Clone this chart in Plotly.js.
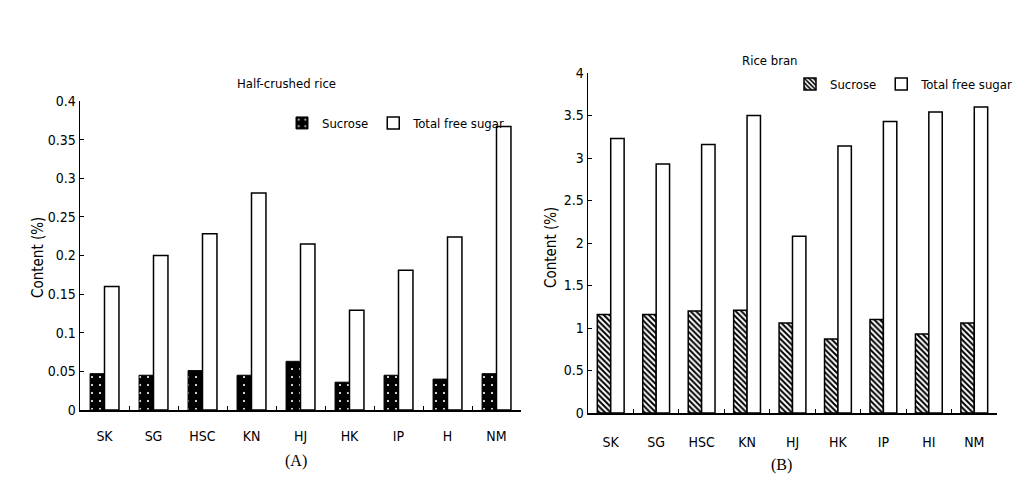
<!DOCTYPE html>
<html>
<head>
<meta charset="utf-8">
<script src="https://cdn.plot.ly/plotly-3.0.1.min.js"></script>
<style>html,body{margin:0;padding:0;background:#fff;}#chart{width:1022px;height:492px;}</style>
</head>
<body>
<div id="chart"></div>
<script>
// Categories
var catsA = ["SK","SG","HSC","KN","HJ","HK","IP","H","NM"];
var catsB = ["SK","SG","HSC","KN","HJ","HK","IP","HI","NM"];
// Panel A: Half-crushed rice
var sucroseA = [0.047, 0.045, 0.051, 0.045, 0.063, 0.036, 0.045, 0.040, 0.047];
var totalA   = [0.160, 0.200, 0.228, 0.281, 0.215, 0.129, 0.181, 0.224, 0.367];
// Panel B: Rice bran
var sucroseB = [1.16, 1.16, 1.20, 1.21, 1.06, 0.87, 1.10, 0.93, 1.06];
var totalB   = [3.23, 2.93, 3.16, 3.50, 2.08, 3.14, 3.43, 3.54, 3.60];
// Tick labels
var tickValsA = [0, 0.05, 0.1, 0.15, 0.2, 0.25, 0.3, 0.35, 0.4];
var tickTextA = ["0", "0.05", "0.1", "0.15", "0.2", "0.25", "0.3", "0.35", "0.4"];
var tickValsB = [0, 0.5, 1, 1.5, 2, 2.5, 3, 3.5, 4];
var tickTextB = ["0", "0.5", "1", "1.5", "2", "2.5", "3", "3.5", "4"];

var FONT = "DejaVu Sans Condensed, Liberation Sans Narrow, sans-serif";

var traces = [
  {type:"bar", name:"Sucrose", x:catsA, y:sucroseA, xaxis:"x", yaxis:"y", legend:"legend",
   marker:{color:"#000", line:{color:"#000", width:1}, pattern:{shape:".", bgcolor:"#000", fgcolor:"#fff", size:8, solidity:0.06, fillmode:"replace"}}},
  {type:"bar", name:"Total free sugar", x:catsA, y:totalA, xaxis:"x", yaxis:"y", legend:"legend",
   marker:{color:"#fff", line:{color:"#000", width:1.5}}},
  {type:"bar", name:"Sucrose", x:catsB, y:sucroseB, xaxis:"x2", yaxis:"y2", legend:"legend2",
   marker:{color:"#fff", line:{color:"#000", width:1.5}, pattern:{shape:"\\", bgcolor:"#fff", fgcolor:"#000", size:4, solidity:0.5}}},
  {type:"bar", name:"Total free sugar", x:catsB, y:totalB, xaxis:"x2", yaxis:"y2", legend:"legend2",
   marker:{color:"#fff", line:{color:"#000", width:1.5}}}
];

var axisCommon = {showgrid:false, zeroline:false, showline:true, linecolor:"#000", linewidth:1.5,
  tickfont:{family:FONT, size:14, color:"#000"}, fixedrange:true};

var layout = {
  width:1022, height:492,
  margin:{l:0, r:0, t:0, b:0},
  paper_bgcolor:"#fff", plot_bgcolor:"#fff",
  bargap:0.41, bargroupgap:0,
  font:{family:FONT, color:"#000"},
  xaxis: Object.assign({}, axisCommon, {domain:[80/1022, 521/1022], anchor:"y", type:"category",
    ticks:"inside", tickson:"boundaries", ticklen:4, tickcolor:"#000", ticklabelstandoff:13}),
  yaxis: Object.assign({}, axisCommon, {domain:[1-410/492, 1-101/492], anchor:"x", range:[0,0.4],
    tickvals:tickValsA, ticktext:tickTextA, ticks:"inside", ticklen:4, tickcolor:"#000"}),
  xaxis2: Object.assign({}, axisCommon, {domain:[588/1022, 997/1022], anchor:"y2", type:"category",
    ticks:"inside", tickson:"boundaries", ticklen:4, tickcolor:"#000", ticklabelstandoff:16}),
  yaxis2: Object.assign({}, axisCommon, {domain:[1-413/492, 1-73/492], anchor:"x2", range:[0,4],
    tickvals:tickValsB, ticktext:tickTextB, ticks:"inside", ticklen:4, tickcolor:"#000"}),
  legend:{orientation:"h", x:282/1022, xanchor:"left", y:1-123/492, yanchor:"middle",
    bgcolor:"rgba(0,0,0,0)", font:{family:FONT, size:13, color:"#000"}, itemclick:false, itemdoubleclick:false, tracegroupgap:0},
  legend2:{orientation:"h", x:790/1022, xanchor:"left", y:1-84/492, yanchor:"middle",
    bgcolor:"rgba(0,0,0,0)", font:{family:FONT, size:13, color:"#000"}, itemclick:false, itemdoubleclick:false, tracegroupgap:0},
  annotations:[
    {text:"Half-crushed rice", x:286/1022, y:1-83/492, xref:"paper", yref:"paper", showarrow:false,
     xanchor:"center", yanchor:"middle", font:{family:FONT, size:13, color:"#000"}},
    {text:"Rice bran", x:770/1022, y:1-60/492, xref:"paper", yref:"paper", showarrow:false,
     xanchor:"center", yanchor:"middle", font:{family:FONT, size:13, color:"#000"}},
    {text:"Content (%)", x:38/1022, y:1-258/492, xref:"paper", yref:"paper", showarrow:false, textangle:-90,
     xanchor:"center", yanchor:"middle", font:{family:FONT, size:15, color:"#000"}},
    {text:"Content (%)", x:551/1022, y:1-248/492, xref:"paper", yref:"paper", showarrow:false, textangle:-90,
     xanchor:"center", yanchor:"middle", font:{family:FONT, size:15, color:"#000"}},
    {text:"(A)", x:296/1022, y:1-461/492, xref:"paper", yref:"paper", showarrow:false,
     xanchor:"center", yanchor:"middle", font:{family:"Liberation Serif, serif", size:16, color:"#000"}},
    {text:"(B)", x:781/1022, y:1-465/492, xref:"paper", yref:"paper", showarrow:false,
     xanchor:"center", yanchor:"middle", font:{family:"Liberation Serif, serif", size:16, color:"#000"}}
  ]
};

Plotly.newPlot("chart", traces, layout, {displayModeBar:false, staticPlot:true});
</script>
</body>
</html>
